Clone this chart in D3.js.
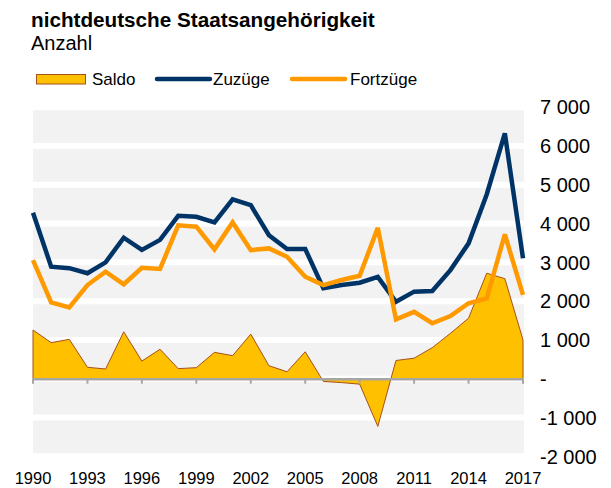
<!DOCTYPE html>
<html>
<head>
<meta charset="utf-8">
<script src="https://cdn.jsdelivr.net/npm/d3@7"></script>
<style>
  html, body { margin: 0; padding: 0; background: #fff; }
  svg { display: block; font-family: "Liberation Sans", Arial, sans-serif; }
</style>
</head>
<body>
<svg id="chart" width="611" height="488"></svg>
<script>
// Wanderungen, nichtdeutsche Staatsangehörigkeit, 1990–2017
const years = d3.range(1990, 2018);
const zuzuege = [4280, 2890, 2850, 2720, 3000, 3635, 3320, 3580, 4200, 4175,
                 4030, 4625, 4475, 3700, 3345, 3345, 2330, 2415, 2475, 2625,
                 1985, 2245, 2260, 2800, 3490, 4750, 6325, 3105];
const fortzuege = [3060, 1970, 1840, 2415, 2760, 2435, 2860, 2830, 3955, 3920,
                   3335, 4030, 3315, 3360, 3145, 2630, 2415, 2545, 2655, 3890,
                   1530, 1725, 1430, 1615, 1945, 2070, 3720, 2160];
const saldo = [1255, 930, 1015, 295, 250, 1210, 455, 760, 260, 285,
               680, 595, 1150, 335, 180, 695, -70, -100, -140, -1230,
               470, 530, 800, 1170, 1560, 2720, 2580, 1000];
const yTicks = [-2000, -1000, 0, 1000, 2000, 3000, 4000, 5000, 6000, 7000];
const yTickLabels = ["-2 000", "-1 000", "-", "1 000", "2 000", "3 000", "4 000", "5 000", "6 000", "7 000"];
const xTicks = [1990, 1993, 1996, 1999, 2002, 2005, 2008, 2011, 2014, 2017];

const C = { saldo: "#ffc000", saldoEdge: "#a5501a", zu: "#003366", fort: "#ff9900",
            band: "#f2f2f2", axis: "#a6a6a6", text: "#000" };

const svg = d3.select("#chart");
const x = d3.scaleLinear().domain([1990, 2017]).range([33, 523]);
const y = d3.scaleLinear().domain([-2000, 7000]).range([456.3, 107.2]);

// Title
svg.append("text").attr("x", 31).attr("y", 26.5)
  .attr("font-size", 20.7).attr("font-weight", "bold").attr("fill", C.text)
  .text("nichtdeutsche Staatsangehörigkeit");
svg.append("text").attr("x", 31).attr("y", 49.5)
  .attr("font-size", 20).attr("fill", C.text).text("Anzahl");

// Legend
const lg = svg.append("g").attr("font-size", 17).attr("fill", C.text);
lg.append("rect").attr("x", 36.5).attr("y", 74.5).attr("width", 49).attr("height", 9.5)
  .attr("fill", C.saldo).attr("stroke", C.saldoEdge).attr("stroke-width", 1);
lg.append("text").attr("x", 92).attr("y", 85).text("Saldo");
lg.append("line").attr("x1", 157).attr("x2", 210).attr("y1", 79).attr("y2", 79)
  .attr("stroke", C.zu).attr("stroke-width", 4.5).attr("stroke-linecap", "round");
lg.append("text").attr("x", 213).attr("y", 85).text("Zuzüge");
lg.append("line").attr("x1", 292).attr("x2", 345).attr("y1", 79).attr("y2", 79)
  .attr("stroke", C.fort).attr("stroke-width", 4.5).attr("stroke-linecap", "round");
lg.append("text").attr("x", 350).attr("y", 85).text("Fortzüge");

// Plot background bands separated by white gridlines
const x0 = 33, x1 = 524;
svg.append("rect").attr("x", x0).attr("y", y(7000)).attr("width", x1 - x0)
  .attr("height", y(-2000) - y(7000)).attr("fill", C.band);
svg.append("g").selectAll("line").data(yTicks).join("line")
  .attr("x1", x0).attr("x2", x1)
  .attr("y1", d => y(d)).attr("y2", d => y(d))
  .attr("stroke", "#fff").attr("stroke-width", 6);

// Saldo area
const area = d3.area().x((d, i) => x(years[i])).y0(y(0)).y1(d => y(d));
svg.append("path").datum(saldo).attr("d", area)
  .attr("fill", C.saldo).attr("stroke", C.saldoEdge).attr("stroke-width", 1)
  .attr("stroke-linejoin", "miter");

// Lines
const line = d3.line().x((d, i) => x(years[i])).y(d => y(d));
svg.append("path").datum(zuzuege).attr("d", line)
  .attr("fill", "none").attr("stroke", C.zu).attr("stroke-width", 4.5)
  .attr("stroke-linejoin", "miter").attr("stroke-miterlimit", 3);
svg.append("path").datum(fortzuege).attr("d", line)
  .attr("fill", "none").attr("stroke", C.fort).attr("stroke-width", 4.5)
  .attr("stroke-linejoin", "miter").attr("stroke-miterlimit", 3);

// X axis at zero with ticks every three years
const xa = svg.append("g");
xa.append("line").attr("x1", x0).attr("x2", x1 - 1).attr("y1", y(0) + 0.5).attr("y2", y(0) + 0.5)
  .attr("stroke", C.axis).attr("stroke-width", 2.5);
xa.selectAll("line.tick").data(xTicks).join("line").attr("class", "tick")
  .attr("x1", d => x(d)).attr("x2", d => x(d))
  .attr("y1", y(0)).attr("y2", y(0) + 5)
  .attr("stroke", C.axis).attr("stroke-width", 2);
xa.selectAll("text").data(xTicks).join("text")
  .attr("x", d => x(d)).attr("y", 483.5).attr("text-anchor", "middle")
  .attr("font-size", 16.5).attr("fill", C.text).text(d => d);

// Y axis labels on the right
svg.append("g").selectAll("text").data(yTicks).join("text")
  .attr("x", 540).attr("y", d => y(d)).attr("dy", "0.36em")
  .attr("font-size", 20).attr("fill", C.text)
  .text((d, i) => yTickLabels[i]);
</script>
</body>
</html>
